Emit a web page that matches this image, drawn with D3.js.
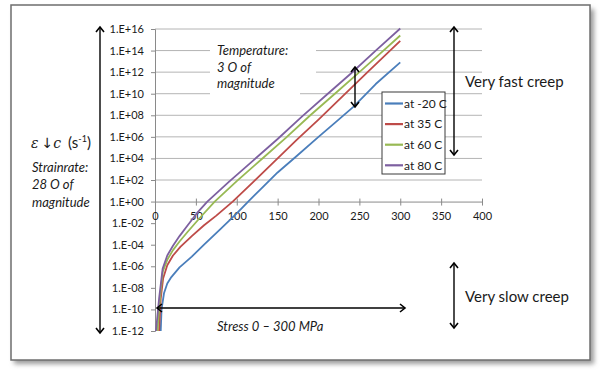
<!DOCTYPE html>
<html>
<head>
<meta charset="utf-8">
<script src="https://cdn.jsdelivr.net/npm/d3@7"></script>
<style>
  body { margin: 0; background: #fff; }
  svg { display: block; }
  text { font-family: Lato, "Open Sans", sans-serif; fill: #1a1a1a; }
  .it { font-style: italic; }
</style>
</head>
<body>
<svg id="chart" width="600" height="374"></svg>
<script>
// stress axis (MPa) and strain-rate axis (powers of ten)
const stressTicks = [0, 50, 100, 150, 200, 250, 300, 350, 400];
const rateExponents = [16, 14, 12, 10, 8, 6, 4, 2, 0, -2, -4, -6, -8, -10, -12];

const seriesNames = ['at -20 C', 'at 35 C', 'at 60 C', 'at 80 C'];
const seriesColors = ['#4a7ebb', '#be4b48', '#98b954', '#7d60a0'];

// log10 of strain rate, per temperature
const stressM20 = [7, 8, 11, 15, 20, 30, 45, 60, 80, 100, 114, 130, 150, 173, 200, 220, 243, 270, 300];
const rateM20   = [-12, -10, -8.5, -7.6, -7.0, -6.1, -5.1, -4.0, -2.55, -1.1, 0, 1.2, 2.7, 4.2, 6.0, 7.3, 8.8, 10.9, 12.9];

const stress35 = [5, 7, 10, 15, 22, 31, 45, 60, 75, 95, 120, 150, 173, 200, 230, 260, 300];
const rate35   = [-12, -9, -7.1, -5.9, -5.0, -4.2, -3.2, -2.2, -1.3, 0, 1.8, 4.0, 5.7, 7.6, 9.8, 12.0, 14.9];

const stress60 = [3, 6, 9.5, 15, 22, 30, 40, 55, 73, 100, 130, 160, 190, 220, 250, 275, 300];
const rate60   = [-12, -9, -6.5, -5.4, -4.5, -3.7, -2.8, -1.5, 0, 1.9, 3.9, 5.9, 8.0, 10.0, 12.0, 13.7, 15.4];

const stress80 = [1.2, 5, 9.4, 15, 22, 30, 40, 51, 64, 90, 120, 150, 180, 210, 240, 270, 300];
const rate80   = [-12, -9, -6.2, -5.0, -4.1, -3.2, -2.2, -1.1, 0, 1.8, 3.8, 5.8, 7.9, 9.9, 11.9, 14.0, 16.05];

const seriesStress = [stressM20, stress35, stress60, stress80];
const seriesRates = [rateM20, rate35, rate60, rate80];

const svg = d3.select('#chart');
const plot = {left: 155, right: 482, top: 29, bottom: 331};

const x = d3.scaleLinear().domain([0, 400]).range([plot.left, plot.right]);
const y = d3.scaleLog().domain([1e-12, 1e16]).range([plot.bottom, plot.top]);

const fmtRate = v => {
    const e = Math.round(Math.log10(v));
    return '1.E' + (e < 0 ? '-' : '+') + String(Math.abs(e)).padStart(2, '0');
};

// frame with soft shadow
const defs = svg.append('defs');
defs.append('filter').attr('id', 'shadow').attr('x', '-5%').attr('y', '-5%').attr('width', '110%').attr('height', '110%')
    .append('feGaussianBlur').attr('stdDeviation', 2.5);
svg.append('rect').attr('x', 14).attr('y', 9).attr('width', 580).attr('height', 355)
    .attr('fill', '#9a9a9a').attr('filter', 'url(#shadow)');
svg.append('rect').attr('x', 11).attr('y', 5).attr('width', 579).attr('height', 355)
    .attr('fill', '#fff').attr('stroke', '#6e6e6e').attr('stroke-width', 1.5);

// arrow head marker
defs.append('marker')
    .attr('id', 'head')
    .attr('viewBox', '-6 -5 8 10')
    .attr('refX', 0).attr('refY', 0)
    .attr('markerWidth', 8).attr('markerHeight', 10)
    .attr('markerUnits', 'userSpaceOnUse')
    .attr('orient', 'auto-start-reverse')
    .append('path')
    .attr('d', 'M-5,-4 L0,0 L-5,4')
    .attr('fill', 'none').attr('stroke', '#000').attr('stroke-width', 1.6);

// horizontal gridlines (only above the x axis, as in the original)
svg.append('g')
    .selectAll('line')
    .data(rateExponents.filter(e => e > 0))
    .join('line')
    .attr('x1', plot.left).attr('x2', plot.right)
    .attr('y1', e => y(10 ** e)).attr('y2', e => y(10 ** e))
    .attr('stroke', '#b4b4b4').attr('stroke-width', 1);

// white text box behind the temperature note
svg.append('rect').attr('x', 210).attr('y', 40).attr('width', 106).attr('height', 40).attr('fill', '#fff');
svg.append('rect').attr('x', 210).attr('y', 80).attr('width', 90).attr('height', 18).attr('fill', '#fff');

// y axis at stress 0
const yAxis = svg.append('g').attr('transform', `translate(${plot.left},0)`)
    .call(d3.axisLeft(y).tickValues(rateExponents.map(e => 10 ** e)).tickFormat(fmtRate).tickSize(4).tickPadding(7));
yAxis.select('.domain').attr('stroke', '#8a8a8a');
yAxis.selectAll('.tick line').attr('stroke', '#8a8a8a');
yAxis.selectAll('.tick text').style('font-size', '11px').attr('fill', '#1a1a1a');

// x axis at 1.E+00
const xAxis = svg.append('g').attr('transform', `translate(0,${y(1)})`)
    .call(d3.axisBottom(x).tickValues(stressTicks).tickSize(4).tickSizeOuter(0).tickPadding(7));
xAxis.select('.domain').attr('stroke', '#8a8a8a');
xAxis.selectAll('.tick line').attr('stroke', '#8a8a8a').attr('y1', -3);
xAxis.selectAll('.tick text').style('font-size', '11px').attr('fill', '#1a1a1a');

// series lines
defs.append('clipPath').attr('id', 'clip').append('rect')
    .attr('x', plot.left - 10).attr('y', plot.top - 2).attr('width', plot.right - plot.left + 10).attr('height', plot.bottom - plot.top + 3);
const line = d3.line().x(d => x(d[0])).y(d => y(10 ** d[1]));
svg.append('g').attr('clip-path', 'url(#clip)')
    .selectAll('path')
    .data(seriesStress.map((s, i) => d3.zip(s, seriesRates[i])))
    .join('path')
    .attr('d', line)
    .attr('fill', 'none')
    .attr('stroke', (d, i) => seriesColors[i])
    .attr('stroke-width', 1.8)
    .attr('stroke-linejoin', 'round');

// legend
const legend = svg.append('g').attr('transform', 'translate(382,92)');
legend.append('rect').attr('width', 63).attr('height', 82)
    .attr('fill', '#fff').attr('stroke', '#3a3a3a').attr('stroke-width', 1);
const entry = legend.selectAll('g.entry')
    .data(seriesNames)
    .join('g')
    .attr('class', 'entry')
    .attr('transform', (d, i) => `translate(0,${11.5 + i * 20.6})`);
entry.append('line').attr('x1', 3).attr('x2', 21)
    .attr('stroke', (d, i) => seriesColors[i]).attr('stroke-width', 2.2);
entry.append('text').attr('x', 22).attr('dy', '0.35em')
    .style('font-size', '12px').text(d => d);

// annotation arrows
const arrow = (x1, y1, x2, y2) => svg.append('line')
    .attr('x1', x1).attr('y1', y1).attr('x2', x2).attr('y2', y2)
    .attr('stroke', '#000').attr('stroke-width', 1.4)
    .attr('marker-start', 'url(#head)').attr('marker-end', 'url(#head)');
arrow(100, 27, 100, 333);
arrow(157, 308, 405, 308);
arrow(355, 67, 355, 107);
arrow(454, 27, 454, 155);
arrow(454, 263, 454, 328);

// texts
svg.append('text').attr('x', 465).attr('y', 87).style('font-size', '15px').text('Very fast creep');
svg.append('text').attr('x', 465).attr('y', 302).style('font-size', '15px').text('Very slow creep');

const temp = svg.append('text').attr('class', 'it').style('font-size', '13px');
['Temperature:', '3 O of', 'magnitude'].forEach((t, i) =>
    temp.append('tspan').attr('x', 217).attr('y', 55 + i * 16.5).text(t));

svg.append('text').attr('class', 'it').attr('x', 217).attr('y', 331).style('font-size', '13px')
    .text('Stress 0 \u2013 300 MPa');

const strain = svg.append('text').attr('class', 'it').style('font-size', '13px');
['Strainrate:', '28 O of', 'magnitude'].forEach((t, i) =>
    strain.append('tspan').attr('x', 32).attr('y', 172 + i * 17.3).text(t));

const eps = svg.append('text').attr('x', 31).attr('y', 148).style('font-size', '15px');
eps.append('tspan').style('font-family', '"DejaVu Serif", serif').style('font-style', 'italic').style('font-size', '14px').text('\u03b5');
eps.append('tspan').attr('dx', 3).style('font-family', '"DejaVu Sans", sans-serif').style('font-size', '14px').text('\u2193');
eps.append('tspan').style('font-family', '"DejaVu Serif", serif').style('font-style', 'italic').style('font-size', '14px').text('c');
eps.append('tspan').attr('dx', 7).text('(s');
eps.append('tspan').attr('dy', -6).style('font-size', '9px').text('-1');
eps.append('tspan').attr('dy', 6).text(')');
</script>
</body>
</html>
